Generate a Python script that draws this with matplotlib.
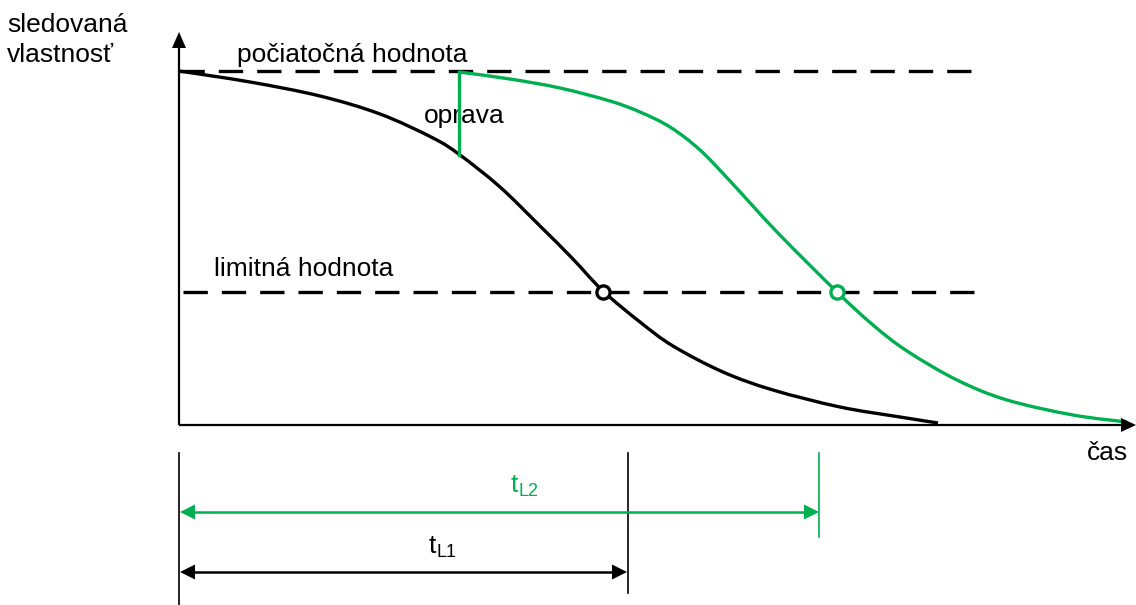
import matplotlib
matplotlib.use("Agg")
import matplotlib.pyplot as plt
from matplotlib.path import Path
from matplotlib.patches import PathPatch
import numpy as np

plt.rcParams['font.family'] = ['Liberation Sans', 'DejaVu Sans']

# ---- data (in the figure's own coordinate frame) ----
black_x = [179, 250, 320, 380, 433, 460, 500, 540, 572, 603, 640, 673, 723, 773, 840, 900, 938]
black_y = [71, 82, 96, 114, 138, 155, 187, 226, 258, 291, 322, 346, 372, 390, 407, 417, 423]

green_x = [459, 510, 560, 610, 640, 670, 700, 730, 777, 837, 873, 907, 957, 1007, 1073, 1127]
green_y = [72, 79, 88, 101, 112, 127, 150, 181, 232, 292, 325, 351, 380, 400, 415, 422]

repair_x = [459, 459]
repair_y = [155, 72]

initial_level = 71
limit_level = 292
dash_x0, dash_x1 = 180, 975
limit_x0 = 183

t_L1_x = 603
t_L2_x = 837
origin_x, origin_y = 179, 425
x_axis_end = 1136
y_axis_end = 32

meas_t0 = 179
meas_t1 = 628
meas_t2 = 819
arrow_y_L2 = 512
arrow_y_L1 = 572

GREEN = '#00B050'

fig = plt.figure(figsize=(11.36, 6.05), dpi=100)
ax = fig.add_axes([0, 0, 1, 1])
ax.set_xlim(0, 1136)
ax.set_ylim(605, 0)
ax.axis('off')

FS = 19


def smooth_path(xs, ys):
    """Cubic Bezier path passing through the given points (Catmull-Rom tangents)."""
    p = np.column_stack([xs, ys]).astype(float)
    verts = [p[0]]
    codes = [Path.MOVETO]
    n = len(p)
    for i in range(n - 1):
        p0 = p[i - 1] if i > 0 else p[i]
        p1 = p[i]
        p2 = p[i + 1]
        p3 = p[i + 2] if i + 2 < n else p[i + 1]
        c1 = p1 + (p2 - p0) / 6.0
        c2 = p2 - (p3 - p1) / 6.0
        verts += [c1, c2, p2]
        codes += [Path.CURVE4] * 3
    return Path(verts, codes)


def draw_curve(xs, ys, color, lw):
    patch = PathPatch(smooth_path(xs, ys), facecolor='none', edgecolor=color,
                      lw=lw, capstyle='butt', joinstyle='round', zorder=3)
    ax.add_patch(patch)


def head(x_tip, y_tip, dx, dy, length, half, color):
    bx, by = x_tip - dx * length, y_tip - dy * length
    px, py = -dy, dx
    ax.fill([x_tip, bx + px * half, bx - px * half],
            [y_tip, by + py * half, by - py * half],
            color=color, lw=0, zorder=5)

# axes
ax.plot([origin_x, origin_x], [origin_y, y_axis_end + 14], color='black', lw=1.6, solid_capstyle='butt')
head(origin_x, y_axis_end, 0, -1, 16, 7, 'black')
ax.plot([origin_x, x_axis_end - 14], [origin_y, origin_y], color='black', lw=1.6, solid_capstyle='butt')
head(x_axis_end, origin_y, 1, 0, 15, 7, 'black')

# dashed levels
ax.plot([dash_x0, dash_x1], [initial_level, initial_level], color='black', lw=2.4,
        dashes=(7.3, 4.2), dash_capstyle='butt')
ax.plot([limit_x0, dash_x1], [limit_level, limit_level], color='black', lw=2.4,
        dashes=(7.3, 4.2), dash_capstyle='butt')

# curves
draw_curve(black_x, black_y, 'black', 2.4)
ax.plot(repair_x, repair_y, color=GREEN, lw=2.4, zorder=3)
draw_curve(green_x, green_y, GREEN, 2.4)

# intersection markers
ax.plot([t_L1_x], [limit_level], 'o', ms=9.5, mfc='white', mec='black', mew=2.4, zorder=6)
ax.plot([t_L2_x], [limit_level], 'o', ms=9.5, mfc='white', mec=GREEN, mew=2.4, zorder=6)

# labels
ax.text(7, 32, 'sledovaná', fontsize=FS, ha='left', va='baseline')
ax.text(7, 62, 'vlastnosť', fontsize=FS, ha='left', va='baseline')
ax.text(237, 62, 'počiatočná hodnota', fontsize=FS, ha='left', va='baseline')
ax.text(424, 123, 'oprava', fontsize=FS, ha='left', va='baseline', zorder=2)
ax.text(214, 276, 'limitná hodnota', fontsize=FS, ha='left', va='baseline')
ax.text(1087, 460, 'čas', fontsize=FS, ha='left', va='baseline')

# measurement lines
ax.plot([meas_t0, meas_t0], [453, 605], color='black', lw=1.2)
ax.plot([meas_t1, meas_t1], [453, 593], color='black', lw=1.2)
ax.plot([meas_t2, meas_t2], [453, 537], color=GREEN, lw=1.2)

# dimension arrows
ax.plot([meas_t0 + 12, meas_t2 - 12], [arrow_y_L2, arrow_y_L2], color=GREEN, lw=1.8)
head(meas_t0 + 1, arrow_y_L2, -1, 0, 15, 7.5, GREEN)
head(meas_t2, arrow_y_L2, 1, 0, 15, 7.5, GREEN)
ax.plot([meas_t0 + 12, meas_t1 - 12], [arrow_y_L1, arrow_y_L1], color='black', lw=1.8)
head(meas_t0 + 1, arrow_y_L1, -1, 0, 15, 7.5, 'black')
head(meas_t1 - 1, arrow_y_L1, 1, 0, 15, 7.5, 'black')

ax.text(511, 492, 't', fontsize=FS, color=GREEN, ha='left', va='baseline')
ax.text(519, 496, 'L2', fontsize=FS * 0.68, color=GREEN, ha='left', va='baseline')
ax.text(429, 553, 't', fontsize=FS, color='black', ha='left', va='baseline')
ax.text(437, 557, 'L1', fontsize=FS * 0.68, color='black', ha='left', va='baseline')

fig.savefig('out.png', dpi=100)
